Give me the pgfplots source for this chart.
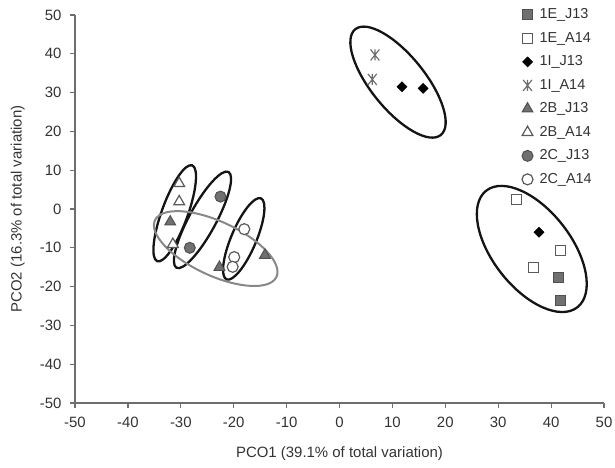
\documentclass[border=0pt]{standalone}
\usepackage{fontspec}
\setmainfont{Liberation Sans}
\usepackage{pgfplots}
\pgfplotsset{compat=1.18}
\definecolor{axgray}{HTML}{6E6E6E}
\definecolor{mfill}{HTML}{707070}
\definecolor{medge}{HTML}{505050}
\definecolor{oedge}{HTML}{5A5A5A}
\definecolor{txt}{HTML}{333333}
\definecolor{ellgray}{HTML}{888888}
\pgfdeclareplotmark{xbar}{%
  \pgfpathmoveto{\pgfqpoint{0pt}{\pgfplotmarksize}}%
  \pgfpathlineto{\pgfqpoint{0pt}{-\pgfplotmarksize}}%
  \pgfpathmoveto{\pgfqpoint{-.8\pgfplotmarksize}{-\pgfplotmarksize}}%
  \pgfpathlineto{\pgfqpoint{.8\pgfplotmarksize}{\pgfplotmarksize}}%
  \pgfpathmoveto{\pgfqpoint{-.8\pgfplotmarksize}{\pgfplotmarksize}}%
  \pgfpathlineto{\pgfqpoint{.8\pgfplotmarksize}{-\pgfplotmarksize}}%
  \pgfusepathqstroke}
\pgfplotsset{mymarks/.style={only marks, legend image code/.code={\draw[##1] plot coordinates {(0bp,0bp)};}}}
\begin{document}
\begin{tikzpicture}
\begin{axis}[
  scale only axis, width=529bp, height=388bp,
  xmin=-50, xmax=50, ymin=-50, ymax=50,
  xtick={-50,-40,...,50}, ytick={-50,-40,...,50},
  axis x line=bottom, axis y line=left,
  axis line style={-, color=axgray, line width=1.3bp},
  tick align=outside, major tick length=5bp,
  tick style={color=axgray, line width=1.2bp},
  /pgf/number format/assume math mode=true,
  ticklabel style={font=\fontsize{15}{18}\selectfont, text=txt},
  xticklabel style={yshift=-6bp},
  yticklabel style={xshift=-5bp},
  xlabel={PCO1 (39.1\% of total variation)},
  ylabel={PCO2 (16.3\% of total variation)},
  label style={font=\fontsize{15}{18}\selectfont, text=txt},
  xlabel style={at={(axis description cs:0.5,0)}, anchor=center, yshift=-51bp},
  ylabel style={at={(axis description cs:-0.108,0.5)}, anchor=center},
  legend style={draw=none, fill=none, at={(0.839,1.024)}, anchor=north west,
    font=\fontsize{14.5}{17}\selectfont, text=txt,
    nodes={inner sep=0pt, text height=11bp, text depth=3bp},
    row sep=9.5bp,
    /tikz/every odd column/.append style={column sep=6.5bp}},
  legend cell align=left,
  clip=false,
]
\addplot[mymarks, mark=square*, mark size=5bp, mark options={fill=mfill, draw=medge, line width=1bp}]
  coordinates {(41.4,-17.6) (41.7,-23.7)};
\addlegendentry{1E\_J13}
\addplot[mymarks, mark=square*, mark size=5bp, mark options={fill=white, draw=oedge, line width=1.2bp}]
  coordinates {(33.5,2.5) (41.7,-10.6) (36.6,-15.0)};
\addlegendentry{1E\_A14}
\addplot[mymarks, mark=square*, mark size=3.6bp, mark options={fill=black, draw=black, rotate=45}]
  coordinates {(11.8,31.5) (15.8,31.1) (37.7,-6.0)};
\addlegendentry{1I\_J13}
\addplot[mymarks, mark=xbar, mark size=5.5bp, mark options={draw=axgray, line width=1.2bp}]
  coordinates {(6.7,39.7) (6.2,33.4)};
\addlegendentry{1I\_A14}
\addplot[mymarks, mark=triangle*, mark size=6.2bp, mark options={fill=mfill, draw=medge, line width=1bp}]
  coordinates {(-32.0,-3.3) (-14.1,-11.9) (-22.7,-15.0)};
\addlegendentry{2B\_J13}
\addplot[mymarks, mark=triangle*, mark size=6.2bp, mark options={fill=white, draw=oedge, line width=1.2bp}]
  coordinates {(-30.3,6.6) (-30.3,1.9) (-31.5,-9.1)};
\addlegendentry{2B\_A14}
\addplot[mymarks, mark=*, mark size=5.5bp, mark options={fill=mfill, draw=medge, line width=1bp}]
  coordinates {(-22.5,3.2) (-28.3,-10.0)};
\addlegendentry{2C\_J13}
\addplot[mymarks, mark=*, mark size=5.5bp, mark options={fill=white, draw=oedge, line width=1.2bp}]
  coordinates {(-18.0,-5.2) (-19.9,-12.4) (-20.2,-14.9)};
\addlegendentry{2C\_A14}
% ellipses
\draw[black!92, line width=2.3bp, rotate around={-51:(axis cs:11.06,32.7)}] (axis cs:11.06,32.7) ellipse [x radius=68bp, y radius=27bp];
\draw[black!92, line width=2.3bp, rotate around={-52:(axis cs:36.35,-10.3)}] (axis cs:36.35,-10.3) ellipse [x radius=74bp, y radius=39bp];
\draw[black!92, line width=2.3bp, rotate around={70:(axis cs:-31.15,-1.1)}] (axis cs:-31.15,-1.1) ellipse [x radius=51bp, y radius=13bp];
\draw[black!92, line width=2.3bp, rotate around={61.5:(axis cs:-25.9,-2.8)}] (axis cs:-25.9,-2.8) ellipse [x radius=54.5bp, y radius=13.5bp];
\draw[black!92, line width=2.3bp, rotate around={67:(axis cs:-18.1,-7.7)}] (axis cs:-18.1,-7.7) ellipse [x radius=44bp, y radius=12.5bp];
\draw[ellgray, line width=2bp, rotate around={-25:(axis cs:-23.4,-10.2)}] (axis cs:-23.4,-10.2) ellipse [x radius=67bp, y radius=27bp];
\end{axis}
\pgfresetboundingbox
\path[use as bounding box] (-75bp,-65bp) rectangle (540bp,403bp);
\end{tikzpicture}
\end{document}
